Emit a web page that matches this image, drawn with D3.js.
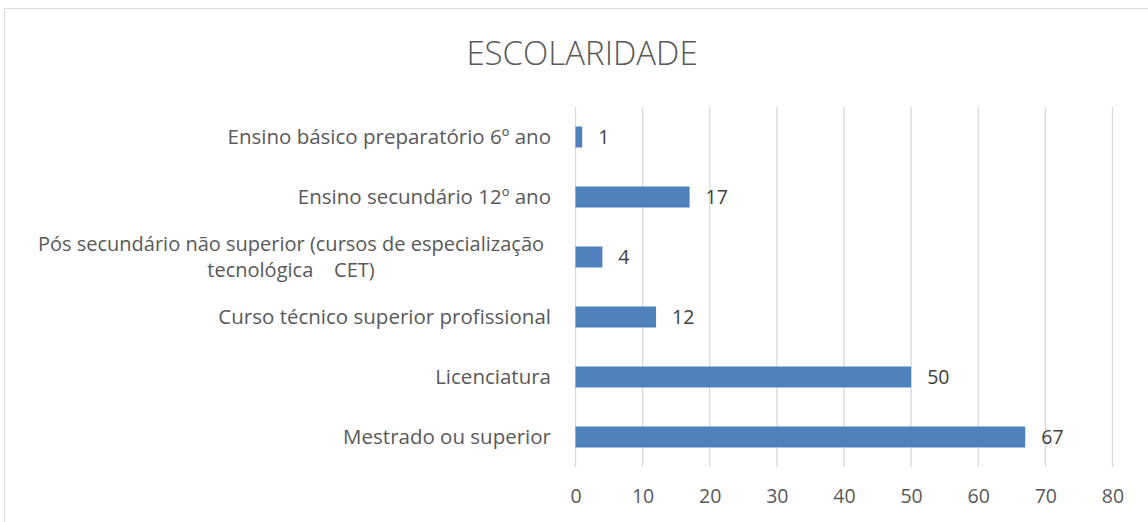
<!DOCTYPE html>
<html><head><meta charset="utf-8">
<script src="https://cdn.jsdelivr.net/npm/d3@7"></script>
<style>body{margin:0;background:#fff}svg{display:block}</style>
</head><body>
<svg id="c" width="1148" height="522"></svg>
<script>
const categories = [
  ["Ensino básico preparatório 6º ano"],
  ["Ensino secundário 12º ano"],
  ["Pós secundário não superior (cursos de especialização", "tecnológica    CET)"],
  ["Curso técnico superior profissional"],
  ["Licenciatura"],
  ["Mestrado ou superior"]
];
const values = [1, 17, 4, 12, 50, 67];
const ticks = [0, 10, 20, 30, 40, 50, 60, 70, 80];
const title = "ESCOLARIDADE";

const svg = d3.select("#c");
const FONT = "'Open Sans', sans-serif";
svg.append("rect").attr("x",4.5).attr("y",8.5).attr("width",1160).attr("height",530)
  .attr("fill","#fff").attr("stroke","#d9d9d9");

const x = d3.scaleLinear().domain([0,80]).range([575.5,1112.5]);
const y = d3.scaleBand().domain(d3.range(categories.length)).range([107,467]).paddingInner(0.65).paddingOuter(0.325);

svg.append("text").attr("x",582).attr("y",65).attr("text-anchor","middle")
  .attr("font-family",FONT).attr("font-size",33).attr("font-weight",300).attr("fill","#595959").text(title);

const grid = svg.append("g");
grid.selectAll("line").data(ticks).join("line")
  .attr("x1",d=>x(d)).attr("x2",d=>x(d)).attr("y1",107).attr("y2",467)
  .attr("stroke","#d9d9d9").attr("stroke-width",1.3);

const ax = svg.append("g").attr("transform","translate(0,467)")
  .call(d3.axisBottom(x).tickValues(ticks).tickSize(0).tickPadding(22));
ax.select(".domain").remove();
ax.selectAll("text").attr("font-family",FONT).attr("font-size",19.5).attr("fill","#595959");

svg.append("g").selectAll("rect").data(values).join("rect")
  .attr("x",x(0)).attr("y",(d,i)=>y(i)).attr("width",d=>x(d)-x(0)).attr("height",y.bandwidth())
  .attr("fill","#4f81bd");

svg.append("g").selectAll("text").data(values).join("text")
  .attr("x",d=>x(d)+16).attr("y",(d,i)=>y(i)+y.bandwidth()/2).attr("dy","0.36em")
  .attr("font-family",FONT).attr("font-size",19.5).attr("fill","#404040").text(d=>d);

const labG = svg.append("g");
categories.forEach((lines,i)=>{
  const cy = y(i)+y.bandwidth()/2;
  const n = lines.length;
  if (n === 1) {
    labG.append("text").attr("x",551).attr("y",cy).attr("dy","0.36em").attr("text-anchor","end")
      .attr("font-family",FONT).attr("font-size",20.5).attr("fill","#595959").text(lines[0]);
  } else {
    const gap = 26;
    lines.forEach((line,k)=>{
      labG.append("text").attr("x",291).attr("y",cy + (k-(n-1)/2)*gap).attr("dy","0.36em")
        .attr("text-anchor","middle").style("white-space","pre")
        .attr("font-family",FONT).attr("font-size",20).attr("fill","#595959").text(line);
    });
  }
});
</script>
</body></html>
